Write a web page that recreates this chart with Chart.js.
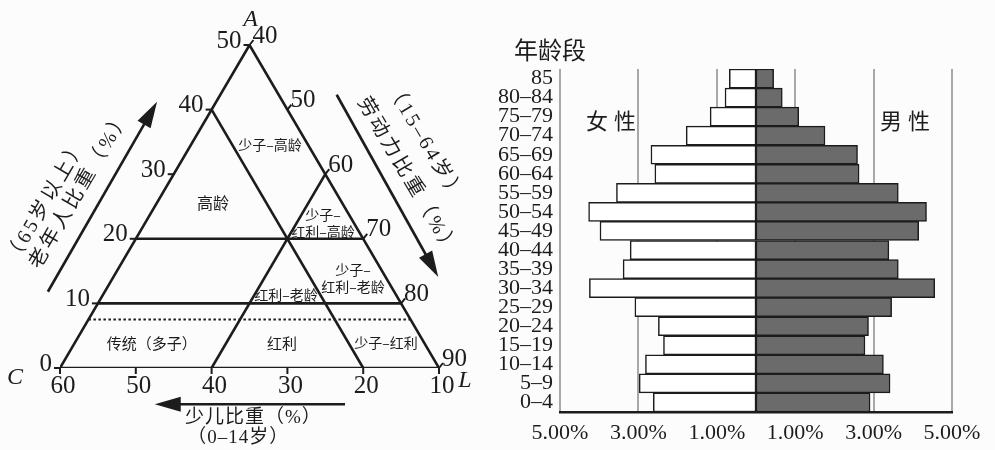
<!DOCTYPE html>
<html>
<head>
<meta charset="utf-8">
<script src="https://cdn.jsdelivr.net/npm/chart.js@4/dist/chart.umd.min.js"></script>
<style>
  html, body { margin: 0; padding: 0; background: #fcfcfc; }
  #wrap { position: relative; width: 995px; height: 450px; overflow: hidden; }
  #tri { position: absolute; left: 0; top: 0; width: 490px; height: 450px; }
  #pyr { position: absolute; left: 490px; top: 0; width: 505px; height: 450px; }
</style>
</head>
<body>
<div id="wrap">
  <canvas id="tri" width="490" height="450"></canvas>
  <canvas id="pyr" width="505" height="450"></canvas>
</div>
<script>
// 人口金字塔（上から下）
const ageGroups = ["85", "80–84", "75–79", "70–74", "65–69", "60–64", "55–59", "50–54", "45–49",
  "40–44", "35–39", "30–34", "25–29", "20–24", "15–19", "10–14", "5–9", "0–4"];
const femalePct = [0.68, 0.79, 1.17, 1.78, 2.68, 2.58, 3.56, 4.27, 3.98,
  3.21, 3.39, 4.25, 3.09, 2.49, 2.36, 2.82, 2.98, 2.62];
const malePct = [0.45, 0.67, 1.09, 1.76, 2.59, 2.63, 3.63, 4.35, 4.15,
  3.39, 3.63, 4.56, 3.46, 2.87, 2.78, 3.25, 3.42, 2.91];
const pctTicks = [-5, -3, -1, 1, 3, 5];

// 三角图（少儿 c / 老年 e / 劳动力 l）
const childTicks = [60, 50, 40, 30, 20, 10];
const elderTicks = [0, 10, 20, 30, 40, 50];
const laborTicks = [40, 50, 60, 70, 80, 90];
const elderLines = [20, 10];
const agingLine = 7.5;
const childLine = 20;
const laborLine = 60;

const INK = "#1c1c1c";
const SERIF = "'Liberation Serif', 'Noto Sans CJK SC', serif";
const CJK = "'Noto Sans CJK SC', sans-serif";

// 三角坐标 -> 图上坐标
function tern(c, e) {
  return { x: c + e / 2, y: e };
}

function lineSet(points, dash) {
  return {
    data: points,
    showLine: true,
    borderColor: INK,
    borderWidth: dash ? 2 : 2.6,
    borderDash: dash || [],
    pointRadius: 0,
    tension: 0,
  };
}

const triSets = [
  lineSet([tern(60, 0), tern(10, 0), tern(10, 50), tern(60, 0)]),
  ...elderLines.map((e) => lineSet([tern(60 - e, e), tern(10, e)])),
  lineSet([tern(childLine, 0), tern(childLine, 60 - childLine)]),
  lineSet([tern(100 - laborLine, 0), tern(10, 90 - laborLine)]),
  lineSet([tern(60 - agingLine, agingLine), tern(10, agingLine)], [2.5, 2.5]),
];

// 区域名称（图上坐标）
const regionLabels = [
  { t: ["高龄"], x: 39.8, y: 25.5, size: 16 },
  { t: ["少子–高龄"], x: 32.3, y: 34.5, size: 14 },
  { t: ["少子–", "红利–高龄"], x: 25.3, y: 22.4, size: 14 },
  { t: ["少子–", "红利–老龄"], x: 21.35, y: 13.85, size: 14 },
  { t: ["红利–老龄"], x: 30.2, y: 11.3, size: 14 },
  { t: ["传统（多子）"], x: 47.9, y: 3.9, size: 15 },
  { t: ["红利"], x: 30.7, y: 3.9, size: 15 },
  { t: ["少子–红利"], x: 17, y: 3.9, size: 14 },
];

function arrow(ctx, x1, y1, x2, y2) {
  const a = Math.atan2(y2 - y1, x2 - x1);
  const len = 26, half = 7.5;
  ctx.beginPath();
  ctx.moveTo(x1, y1);
  ctx.lineTo(x2 - Math.cos(a) * len * 0.8, y2 - Math.sin(a) * len * 0.8);
  ctx.stroke();
  ctx.beginPath();
  ctx.moveTo(x2, y2);
  ctx.lineTo(x2 - Math.cos(a) * len - Math.sin(a) * half, y2 - Math.sin(a) * len + Math.cos(a) * half);
  ctx.lineTo(x2 - Math.cos(a) * len + Math.sin(a) * half, y2 - Math.sin(a) * len - Math.cos(a) * half);
  ctx.closePath();
  ctx.fill();
}

function rotText(ctx, text, x, y, ang, font) {
  ctx.save();
  ctx.translate(x, y);
  ctx.rotate(ang);
  ctx.font = font;
  ctx.letterSpacing = "3px";
  ctx.textAlign = "left";
  ctx.textBaseline = "middle";
  ctx.fillText(text, 0, 0);
  ctx.restore();
}

// 三角图的刻度・文字・箭头
const triDecor = {
  id: "triDecor",
  afterDatasetsDraw(chart) {
    const ctx = chart.ctx;
    const xs = chart.scales.x, ys = chart.scales.y;
    const P = (p) => [xs.getPixelForValue(p.x), ys.getPixelForValue(p.y)];
    ctx.save();
    ctx.fillStyle = INK;
    ctx.strokeStyle = INK;
    ctx.lineWidth = 2;
    ctx.textBaseline = "middle";
    ctx.font = "25px " + SERIF;

    // 左边：老年人比重
    ctx.textAlign = "right";
    elderTicks.forEach((e) => {
      const [px, py] = P(tern(60 - e, e));
      ctx.beginPath();
      ctx.moveTo(px, py);
      ctx.lineTo(px - 6, py);
      ctx.stroke();
      ctx.fillText(String(e), px - 8, py - 4);
    });

    // 右边：劳动力比重
    ctx.textAlign = "left";
    laborTicks.forEach((l) => {
      const [px, py] = P(tern(10, 90 - l));
      ctx.beginPath();
      ctx.moveTo(px, py);
      ctx.lineTo(px + 4, py - 5);
      ctx.stroke();
      ctx.fillText(String(l), px + 3, py - 9);
    });

    // 底边：少儿比重
    ctx.textAlign = "center";
    childTicks.forEach((c) => {
      const [px, py] = P(tern(c, 0));
      ctx.beginPath();
      ctx.moveTo(px, py);
      ctx.lineTo(px, py + 6);
      ctx.stroke();
      ctx.fillText(String(c), px + 3, py + 18);
    });

    // 顶点
    ctx.font = "italic 24px " + SERIF;
    let [ax, ay] = P(tern(10, 50));
    ctx.fillText("A", ax + 1, ay - 25);
    let [cx, cy] = P(tern(60, 0));
    ctx.fillText("C", cx - 45, cy + 10);
    let [lx, ly] = P(tern(10, 0));
    ctx.fillText("L", lx + 26, ly + 13);

    // 区域名称
    regionLabels.forEach((r) => {
      ctx.font = r.size + "px " + CJK;
      const [px, py] = P(r);
      const gap = 17;
      r.t.forEach((s, i) => {
        ctx.fillText(s, px, py + (i - (r.t.length - 1) / 2) * gap);
      });
    });

    // 箭头
    ctx.lineWidth = 2.6;
    let a = P({ x: 61.6, y: 11.8 }), b = P({ x: 47.2, y: 41.2 });
    arrow(ctx, a[0], a[1], b[0], b[1]);
    a = P({ x: 23.5, y: 42.3 }); b = P({ x: 10.1, y: 14.1 });
    arrow(ctx, a[0], a[1], b[0], b[1]);
    a = P({ x: 22.4, y: -5.6 }); b = P({ x: 47.5, y: -5.6 });
    arrow(ctx, a[0], a[1], b[0], b[1]);

    // 轴标题
    const slope = Math.atan2(ys.getPixelForValue(50) - ys.getPixelForValue(0),
      xs.getPixelForValue(35) - xs.getPixelForValue(60));
    const f21 = "20px " + SERIF;
    let p = P({ x: 66.45, y: 16.45 });
    rotText(ctx, "（65岁以上）", p[0], p[1], slope, f21);
    p = P({ x: 63.34, y: 15.6 });
    rotText(ctx, "老年人比重（%）", p[0], p[1], slope, f21);
    p = P({ x: 16.32, y: 43.76 });
    rotText(ctx, "（15–64岁）", p[0], p[1], -slope, f21);
    p = P({ x: 20.2, y: 41.64 });
    rotText(ctx, "劳动力比重（%）", p[0], p[1], -slope, f21);

    ctx.textAlign = "center";
    ctx.font = "19px " + SERIF;
    ctx.letterSpacing = "1px";
    p = P({ x: 34.5, y: -7.7 });
    ctx.fillText("少儿比重（%）", p[0], p[1]);
    p = P({ x: 36.5, y: -10.8 });
    ctx.fillText("（0–14岁）", p[0], p[1]);
    ctx.restore();
  },
};

new Chart(document.getElementById("tri"), {
  type: "scatter",
  data: { datasets: triSets },
  options: {
    responsive: false,
    animation: false,
    layout: { padding: { left: 60, right: 51, top: 45, bottom: 82 } },
    scales: {
      x: { type: "linear", min: 10, max: 60, reverse: true, display: false },
      y: { type: "linear", min: 0, max: 50, display: false },
    },
    plugins: { legend: { display: false }, tooltip: { enabled: false } },
  },
  plugins: [triDecor],
});

// 金字塔的文字
const pyrText = {
  id: "pyrText",
  afterDraw(chart) {
    const ctx = chart.ctx;
    const xs = chart.scales.x, ys = chart.scales.y;
    const area = chart.chartArea;
    ctx.save();
    ctx.fillStyle = INK;
    ctx.textBaseline = "middle";
    ctx.textAlign = "center";
    ctx.font = "24px " + CJK;
    ctx.fillText("年龄段", area.left - 10, area.top - 19);
    ctx.font = "22px " + CJK;
    ctx.letterSpacing = "6px";
    const y = ys.getPixelForValue(2.2);
    ctx.fillText("女性", xs.getPixelForValue(-3.7) + 3, y);
    ctx.fillText("男性", xs.getPixelForValue(3.8) + 3, y);
    ctx.restore();
  },
};

const barStyle = { borderColor: INK, borderWidth: 1.5, borderSkipped: false, categoryPercentage: 1, barPercentage: 1 };

new Chart(document.getElementById("pyr"), {
  type: "bar",
  data: {
    labels: ageGroups,
    datasets: [
      { label: "女性", data: femalePct.map((v) => -v), backgroundColor: "#ffffff", ...barStyle },
      { label: "男性", data: malePct, backgroundColor: "#6b6b6b", ...barStyle },
    ],
  },
  options: {
    indexAxis: "y",
    responsive: false,
    animation: false,
    layout: { padding: { top: 69, right: 43, left: 0, bottom: 0 } },
    scales: {
      x: {
        stacked: true,
        min: -5,
        max: 5,
        z: 1,
        afterBuildTicks: (s) => { s.ticks = pctTicks.map((v) => ({ value: v })); },
        afterFit: (s) => { s.height = 38; },
        grid: { color: "#a8a8a8", lineWidth: 2, drawTicks: false },
        border: { display: true, color: INK, width: 2.6 },
        ticks: {
          font: { family: "Liberation Serif", size: 22 },
          color: INK,
          padding: 8,
          maxRotation: 0,
          autoSkip: false,
          callback: (v) => Math.abs(v).toFixed(2) + "%",
        },
      },
      y: {
        stacked: true,
        afterFit: (s) => { s.width = 70; },
        grid: { display: false, drawTicks: false },
        border: { display: false },
        ticks: { font: { family: "Liberation Serif", size: 22 }, color: INK, padding: 7, autoSkip: false },
      },
    },
    plugins: { legend: { display: false }, tooltip: { enabled: false } },
  },
  plugins: [pyrText],
});
</script>
</body>
</html>
